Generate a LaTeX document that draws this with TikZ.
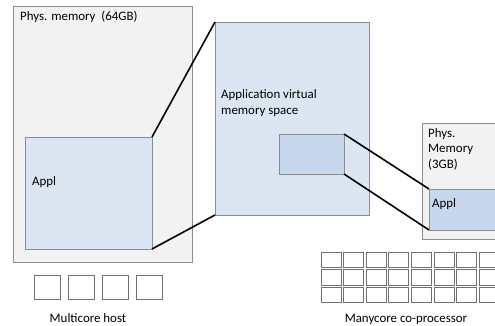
\documentclass[tikz,border=0pt]{standalone}
\usepackage{fontspec}
\setmainfont{Carlito}
\definecolor{hostfill}{HTML}{F2F2F2}
\definecolor{boxline}{HTML}{8C8C8C}
\definecolor{lightblue}{HTML}{DCE6F2}
\definecolor{midblue}{HTML}{C6D7EE}
\definecolor{coreline}{HTML}{707070}
\begin{document}
\begin{tikzpicture}[x=1pt,y=-1pt,
  font=\fontsize{12.9}{15}\selectfont,
  area/.style={draw=boxline, line width=0.8pt, anchor=north west, inner sep=0pt, outer sep=0pt},
  hostarea/.style={area, fill=hostfill},
  lightarea/.style={area, fill=lightblue},
  midarea/.style={area, fill=midblue},
  core/.style={draw=coreline, line width=0.7pt, fill=white, anchor=north west, inner sep=0pt, outer sep=0pt},
  txt/.style={anchor=base west, inner sep=0pt},
  ctxt/.style={anchor=base, inner sep=0pt},
  link/.style={draw=black, line width=1.6pt}]
\useasboundingbox (0,0) rectangle (495,326);
\clip (0,0) rectangle (495,326);
% multicore host
\node[hostarea, minimum width=179pt, minimum height=256pt] (host) at (13,6) {};
\node[txt] (hostlbl) at (20,21) {Phys. memory\ \ (64GB)};
\node[lightarea, minimum width=127pt, minimum height=112pt] (applL) at (25,137) {};
\node[txt] (applLlbl) at (32,185) {Appl};
% virtual memory
\node[lightarea, minimum width=154pt, minimum height=193pt] (virt) at (215,22) {};
\node[txt] (virtlbl1) at (221,99) {Application virtual};
\node[txt] (virtlbl2) at (221,114) {memory space};
\node[midarea, minimum width=65pt, minimum height=40pt] (vsub) at (279,134) {};
% coprocessor memory
\node[hostarea, minimum width=90pt, minimum height=116pt] (dev) at (422,123) {};
\node[txt] (devlbl1) at (428,138) {Phys.};
\node[txt] (devlbl2) at (428,153) {Memory};
\node[txt] (devlbl3) at (428,168) {(3GB)};
\node[midarea, minimum width=75pt, minimum height=41pt] (applR) at (429,189) {};
\node[txt] (applRlbl) at (432,207) {Appl};
% connectors
\draw[link] (applL.north east) -- (virt.north west);
\draw[link] (applL.south east) -- (virt.south west);
\draw[link] (vsub.north east) -- (applR.north west);
\draw[link] (vsub.south east) -- (applR.south west);
% host cores
\foreach \i in {0,...,3} {
  \node[core, minimum width=26pt, minimum height=24pt] (hc\i) at ({34+34*\i},275) {};
}
\node[ctxt] (hostname) at (88,322) {Multicore host};
% many cores
\foreach \r in {0,1,2} {
  \foreach \c in {0,...,7} {
    \node[core, minimum width=20pt, minimum height=15.5pt] (mc\r\c) at ({321+22.6*\c},{252+17.5*\r}) {};
  }
}
\node[ctxt] (devname) at (406,322) {Manycore co-processor};
\end{tikzpicture}
\end{document}
